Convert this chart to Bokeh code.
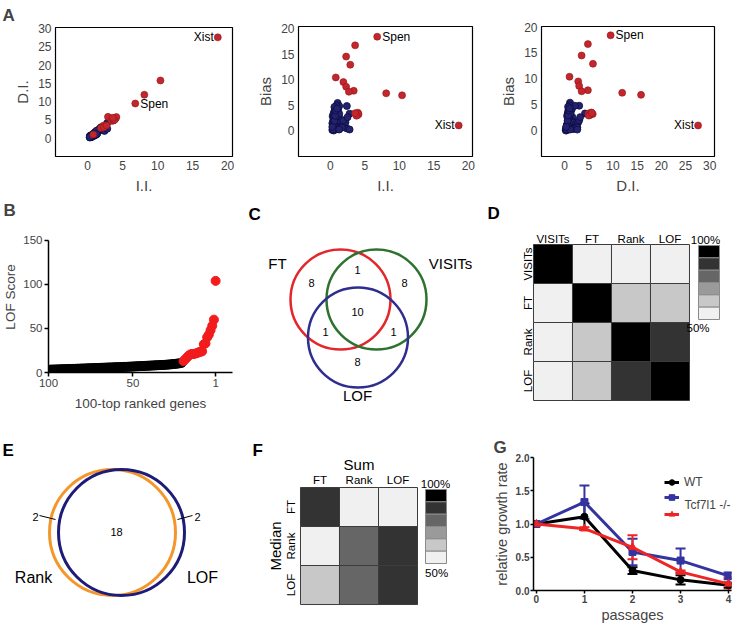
import math
from bokeh.plotting import figure
from bokeh.layouts import row, column
from bokeh.models import (Range1d, FixedTicker, Legend, LegendItem, Whisker, Label,
                          ColumnDataSource, TeeHead, NumeralTickFormatter, LinearColorMapper)
from bokeh.transform import transform
from bokeh.embed import file_html
from bokeh.resources import INLINE
from bokeh.core.properties import value

FONT = "Liberation Sans"

# ---------------- Panel A data (I.I., D.I., Bias) ----------------
red_ii = [18.6, 6.8, 3.6, 2.3, 2.9, 0.8, 1.9, 2.3, 3.4, 2.7, 8.1, 10.4, 3.7, 3.9, 4.0, 4.1, 3.8, 3.6]
red_di = [27.6, 9.5, 4.8, 3.5, 5.85, 1.0, 2.8, 3.0, 4.8, 3.5, 11.9, 15.8, 4.9, 5.2, 5.5, 5.8, 5.0, 5.6]
red_bias = [1.0, 18.4, 16.7, 14.5, 12.9, 10.4, 9.5, 8.6, 7.8, 7.6, 7.3, 6.9, 3.3, 3.0, 3.5, 3.2, 2.9, 3.4]
red_gene = ["Xist", "Spen", "", "", "", "", "", "", "", "", "", "", "", "", "", "", "", ""]

blue_ii = [0.3, 0.4, 0.5, 0.6, 0.7, 0.8, 0.9, 1.0, 1.1, 1.2,
           0.35, 0.45, 0.55, 0.65, 0.75, 0.85, 0.95, 1.05, 1.15, 1.25,
           0.3, 0.4, 0.5, 0.6, 0.7, 0.8, 0.9, 1.0, 1.1, 1.2,
           0.5, 0.6, 0.7, 0.8, 0.9, 1.0, 1.1, 1.2, 1.3, 1.4,
           1.5, 1.6, 1.8, 2.0, 2.2, 2.4, 1.7, 1.9,
           1.06, 2.4, 2.8, 2.5, 2.8, 1.3, 0.9, 0.6,
           0.4, 0.5, 0.6, 0.7, 0.8, 1.0, 1.3, 0.3]
blue_di = [0.2, 0.3, 0.4, 0.5, 0.6, 0.8, 0.9, 1.1, 1.2, 1.4,
           0.5, 0.6, 0.7, 0.8, 0.9, 1.0, 1.1, 1.3, 1.5, 1.6,
           0.6, 0.7, 0.8, 0.9, 1.0, 1.2, 1.3, 1.5, 1.7, 1.8,
           0.3, 0.4, 0.5, 0.6, 0.7, 0.8, 0.9, 1.0, 1.2, 1.4,
           1.9, 2.1, 2.3, 2.5, 2.8, 2.0, 2.6, 3.0,
           1.1, 3.0, 4.2, 3.2, 2.6, 2.1, 1.0, 0.7,
           0.4, 0.5, 0.6, 0.7, 0.9, 1.0, 1.1, 0.3]
blue_bias = [0.1, 0.4, 0.8, 1.2, 0.2, 1.6, 2.0, 0.5, 2.4, 1.0,
             2.8, 3.2, 3.6, 4.0, 4.4, 3.0, 3.4, 3.8, 4.2, 2.6,
             1.4, 1.8, 2.2, 2.6, 0.6, 1.0, 1.4, 1.8, 0.3, 0.7,
             0.0, 0.3, 0.9, 1.3, 1.7, 2.1, 2.5, 2.9, 3.3, 1.1,
             1.5, 0.8, 1.2, 0.9, 1.6, 0.4, 0.6, 2.0,
             5.4, 4.8, 3.3, 2.6, 0.2, 4.8, 4.9, 4.6,
             0.2, 1.0, 1.9, 2.9, 3.9, 4.3, 0.2, 0.7]

# ---------------- Panel B data ----------------
top_rank = list(range(1, 21))
top_score = [104, 60, 53, 48, 43, 40, 33, 32, 24, 23.5, 23, 22, 21.5, 21, 21, 20.5, 19, 17, 15, 13]
rest_rank = list(range(21, 101))
rest_score = [11.0, 10.6, 10.3, 10.0, 9.8, 9.6, 9.4, 9.2, 9.0, 8.9,
              8.7, 8.6, 8.5, 8.4, 8.3, 8.2, 8.1, 8.0, 7.9, 7.8,
              7.7, 7.6, 7.5, 7.4, 7.3, 7.2, 7.1, 7.0, 6.9, 6.8,
              6.7, 6.6, 6.5, 6.4, 6.4, 6.3, 6.2, 6.1, 6.0, 6.0,
              5.9, 5.8, 5.7, 5.7, 5.6, 5.5, 5.4, 5.4, 5.3, 5.2,
              5.1, 5.1, 5.0, 4.9, 4.8, 4.8, 4.7, 4.6, 4.5, 4.5,
              4.4, 4.3, 4.3, 4.2, 4.1, 4.1, 4.0, 3.9, 3.9, 3.8,
              3.7, 3.7, 3.6, 3.5, 3.5, 3.4, 3.3, 3.3, 3.2, 3.1]

# ---------------- Panel C data ----------------
venn3_sets = ["FT", "VISITs", "LOF"]
# FT only, VISITs only, LOF only, FT&VISITs, FT&LOF, VISITs&LOF, all three
venn3_counts = [8, 8, 8, 1, 1, 1, 10]

# ---------------- Panel D data ----------------
d_methods = ["VISITs", "FT", "Rank", "LOF"]
d_overlap = [[100, 52, 52, 52],
             [52, 100, 62, 62],
             [52, 62, 100, 90],
             [52, 62, 90, 100]]

# ---------------- Panel E data ----------------
venn2_sets = ["Rank", "LOF"]
venn2_counts = [2, 18, 2]  # Rank only, both, LOF only

# ---------------- Panel F data ----------------
f_sum = ["FT", "Rank", "LOF"]
f_median = ["FT", "Rank", "LOF"]
f_overlap = [[90, 52, 52],
             [52, 80, 90],
             [62, 80, 90]]

grey_levels = ["#f0f0f0", "#c8c8c8", "#9a9a9a", "#666666", "#333333", "#000000"]
scale_labels = ["50%", "100%"]

# ---------------- Panel G data ----------------
passages = [0, 1, 2, 3, 4]
wt_mean = [1.0, 1.11, 0.30, 0.16, 0.08]
wt_err = [0.0, 0.20, 0.05, 0.07, 0.04]
ko_mean = [1.0, 1.33, 0.58, 0.45, 0.22]
ko_err = [0.0, 0.25, 0.20, 0.18, 0.05]
ko2_mean = [1.0, 0.93, 0.65, 0.28, 0.10]
ko2_err = [0.0, 0.02, 0.18, 0.02, 0.10]
g_labels = ["WT", "Tcf7l1 -/-"]

NAVY = "#23226e"
RED_A = "#c4262b"
RED_B = "#f21c1c"


def fig(w, h, l, r, t, b, **kw):
    p = figure(width=w, height=h, min_border_left=l, min_border_right=r,
               min_border_top=t, min_border_bottom=b, toolbar_location=None,
               output_backend="svg", **kw)
    try:
        p.frame_align = False
    except Exception:
        pass
    p.grid.visible = False
    p.outline_line_color = None
    p.background_fill_color = "white"
    p.border_fill_color = "white"
    return p


def bare(w, h, xr, yr):
    p = fig(w, h, 0, 0, 0, 0, x_range=Range1d(*xr), y_range=Range1d(*yr),
            x_axis_type=None, y_axis_type=None)
    p.title.visible = False
    return p


def title_letter(p, txt, offset, standoff):
    p.title.text = txt
    p.title.align = "left"
    p.title.offset = offset
    p.title.standoff = standoff
    p.title.text_font = FONT
    p.title.text_font_style = "bold"
    p.title.text_font_size = "17px"


def text_letter(p, txt, x, y):
    p.text([x], [y], text=[txt], text_align="left", text_baseline="top",
           text_font=value(FONT), text_font_style="bold", text_font_size="17px",
           text_color="black")


def style_axis(ax, size="12px", label_size="16px"):
    ax.major_label_text_font = FONT
    ax.major_label_text_font_size = size
    ax.axis_label_text_font = FONT
    ax.axis_label_text_font_size = label_size
    ax.axis_label_text_font_style = "normal"
    ax.minor_tick_line_color = None


def txt(p, xs, ys, labels, size, angle=0.0, align="center", style="normal"):
    p.text(xs, ys, text=labels, angle=angle, text_align=align, text_baseline="middle",
           text_font=value(FONT), text_font_size=size, text_font_style=style,
           text_color="black")


# ---------------- Panel A ----------------
def a_panel(x, y, rx, ry, xr, yr, xt, yt, xlabel, ylabel, w, l, r):
    p = fig(w, 196, l, r, 26, 36, x_range=Range1d(*xr), y_range=Range1d(*yr))
    p.outline_line_color = "black"
    p.outline_line_width = 1.2
    for ax, ticks, lab in ((p.xaxis[0], xt, xlabel), (p.yaxis[0], yt, ylabel)):
        ax.ticker = FixedTicker(ticks=ticks)
        style_axis(ax, "12px", "15px")
        ax.axis_line_color = None
        ax.major_tick_line_color = None
        ax.major_tick_in = 0
        ax.major_tick_out = 0
        ax.major_label_standoff = 4
        ax.axis_label_standoff = 4
        ax.axis_label = lab
    p.scatter(x, y, size=7, fill_color=NAVY, line_color="#0d0c40", line_width=0.8)
    p.scatter(rx, ry, size=7, fill_color=RED_A, line_color="#8e1519", line_width=0.6)
    xi = red_gene.index("Xist")
    sp = red_gene.index("Spen")
    p.text([rx[xi]], [ry[xi]], text=[red_gene[xi]], text_align="right", text_baseline="middle",
           x_offset=-4, text_font=value(FONT), text_font_size="12px", text_color="black")
    p.text([rx[sp]], [ry[sp]], text=[red_gene[sp]], text_align="left", text_baseline="middle",
           x_offset=5, text_font=value(FONT), text_font_size="12px", text_color="black")
    return p


a1 = a_panel(blue_ii, blue_di, red_ii, red_di, (-4.6, 20.7), (-5.0, 30.3),
             [0, 5, 10, 15, 20], [0, 5, 10, 15, 20, 25, 30], "I.I.", "D.I.", 240, 55, 8)
a2 = a_panel(blue_ii, blue_bias, red_ii, red_bias, (-4.6, 20.6), (-5.1, 20.4),
             [0, 5, 10, 15, 20], [0, 5, 10, 15, 20], "I.I.", "Bias", 240, 58, 8)
a3 = a_panel(blue_di, blue_bias, red_di, red_bias, (-4.8, 31.0), (-5.0, 20.1),
             [0, 5, 10, 15, 20, 25, 30], [0, 5, 10, 15, 20], "D.I.", "Bias", 254, 61, 20)
title_letter(a1, "A", -53, 6)

# ---------------- Panel B ----------------
# frame reaches above the axis top (axis bounds keep the line at 0-150)
b = fig(240, 229, 42, 8, 24, 53, x_range=Range1d(100, -9), y_range=Range1d(0, 171.4))
b.xaxis.ticker = FixedTicker(ticks=[100, 50, 1])
b.yaxis.ticker = FixedTicker(ticks=[0, 50, 100, 150])
b.yaxis.bounds = (0, 150)
for ax in (b.xaxis[0], b.yaxis[0]):
    style_axis(ax, "11.5px", "13.5px")
    ax.axis_line_width = 1.5
    ax.major_tick_line_width = 1.5
    ax.major_tick_in = 0
    ax.major_tick_out = 4
    ax.major_label_standoff = 2
    ax.axis_label_standoff = 2
b.xaxis.axis_label = "100-top ranked genes"
b.yaxis.axis_label = "LOF Score"
b.xaxis.axis_label_standoff = 6
b.scatter(rest_rank, rest_score, size=9, color="black")
b.scatter(top_rank, top_score, size=9, color=RED_B)
title_letter(b, "B", -45, 4)

# ---------------- Panel C (pixel-like frame) ----------------
c = bare(240, 229, (240, 480), (425, 196))
c.circle([340, 376, 357.5], [299, 299, 337], radius=50, fill_color=None,
         line_color=["#e3262b", "#2e7230", "#2f2e8f"], line_width=2.5)
txt(c, [277, 450, 357], [263, 263, 395], venn3_sets, "15px")
txt(c, [311, 404, 357, 357, 325, 393, 357], [282, 282, 361, 269, 331, 331, 311],
    [str(v) for v in venn3_counts], "11px")
text_letter(c, "C", 248, 204)


# ---------------- Heatmap helper (D, F) ----------------
def heatmap(p, mat, cb_x, cb_w, cb_top, cb_bot):
    mapper = LinearColorMapper(palette=grey_levels, low=50, high=100)
    xs, ys, vs = [], [], []
    for i, rv in enumerate(mat):
        for j, v in enumerate(rv):
            xs.append(j + 1)
            ys.append(i + 1)
            vs.append(v)
    src = ColumnDataSource(dict(x=xs, y=ys, v=vs))
    p.rect("x", "y", 1, 1, source=src, fill_color=transform("v", mapper),
           line_color="#3c3c3c", line_width=1)
    n = len(grey_levels)
    bh = (cb_bot - cb_top) / n
    cols = list(reversed(grey_levels))
    p.rect([cb_x] * n, [cb_top + bh * (k + 0.5) for k in range(n)], cb_w, bh,
           fill_color=cols, line_color="#8a8a8a", line_width=1)


# ---------------- Panel D (cell units, 39 px per cell) ----------------
d = bare(254, 229, (-0.859, 5.654), (5.141, -0.731))
heatmap(d, d_overlap, 5.0, 21 / 39, 0.526, 2.423)
txt(d, [1, 2, 3, 4], [0.35] * 4, d_methods, "11.5px")
txt(d, [0.35] * 4, [1, 2, 3, 4], d_methods, "11.5px", angle=math.pi / 2)
txt(d, [4.91], [0.38], [scale_labels[1]], "11.5px")
txt(d, [4.72], [2.63], [scale_labels[0]], "11.5px")
text_letter(d, "D", -0.68, -0.53)

# ---------------- Panel E (pixel-like frame) ----------------
e = bare(240, 200, (0, 240), (625, 425))
e.circle([112, 121], [532, 532], radius=63, fill_color=None,
         line_color=["#f4962a", "#1f1b78"], line_width=3)
e.segment([39, 177], [515, 519], [55, 192], [519, 515], line_color="black", line_width=1)
txt(e, [35, 116, 197], [516, 531, 516], [str(v) for v in venn2_counts], "11px")
txt(e, [33, 202], [577, 577], venn2_sets, "16px")
text_letter(e, "E", 2, 440)

# ---------------- Panel F (cell units, 39 px per cell) ----------------
f = bare(240, 200, (-1.038, 5.115), (4.038, -1.090))
heatmap(f, f_overlap, 3.974, 21 / 39, 0.551, 2.449)
txt(f, [1, 2, 3], [0.32] * 3, f_sum, "11.5px")
txt(f, [0.25] * 3, [1, 2, 3], f_median, "11.5px", angle=math.pi / 2)
txt(f, [2.0], [-0.09], ["Sum"], "15px")
txt(f, [-0.14], [2.0], ["Median"], "15px", angle=math.pi / 2)
txt(f, [3.96], [0.42], [scale_labels[1]], "11.5px")
txt(f, [3.99], [2.70], [scale_labels[0]], "11.5px")
text_letter(f, "F", -0.73, -0.70)

# ---------------- Panel G ----------------
g = fig(254, 200, 53, 3, 32, 34, x_range=Range1d(-0.06, 4.06), y_range=Range1d(0, 2.0))
g.xaxis.ticker = FixedTicker(ticks=passages)
g.yaxis.ticker = FixedTicker(ticks=[0, 0.5, 1.0, 1.5, 2.0])
g.yaxis.formatter = NumeralTickFormatter(format="0.0")
for ax in (g.xaxis[0], g.yaxis[0]):
    style_axis(ax, "10px", "14.5px")
    ax.major_label_text_font_style = "bold"
    ax.axis_line_width = 1.5
    ax.major_tick_line_width = 1.5
    ax.major_tick_in = 0
    ax.major_tick_out = 3
    ax.major_label_standoff = 1
    ax.axis_label_standoff = 1
g.xaxis.axis_label = "passages"
g.yaxis.axis_label = "relative growth rate"
g.yaxis.axis_label_standoff = 3

series = [
    (wt_mean, wt_err, "black", "circle", 7),
    (ko_mean, ko_err, "#3434a0", "square", 7),
    (ko2_mean, ko2_err, "#ef2424", "triangle", 8),
]
items = []
for mean, err, col, marker, sz in series:
    xs = [p_ for p_, e_ in zip(passages, err) if e_ > 0]
    up = [m + e_ for m, e_ in zip(mean, err) if e_ > 0]
    lo = [m - e_ for m, e_ in zip(mean, err) if e_ > 0]
    src = ColumnDataSource(dict(x=xs, up=up, lo=lo))
    g.add_layout(Whisker(source=src, base="x", upper="up", lower="lo", line_color=col, line_width=2,
                         upper_head=TeeHead(size=10, line_color=col, line_width=2),
                         lower_head=TeeHead(size=10, line_color=col, line_width=2)))
    lr = g.line(passages, mean, line_color=col, line_width=3)
    sr = g.scatter(passages, mean, marker=marker, size=sz, fill_color=col, line_color=col)
    items.append([lr, sr])

leg1 = Legend(items=[LegendItem(label=g_labels[0], renderers=items[0])], location=(131, 101))
leg2 = Legend(items=[LegendItem(label=" ", renderers=items[1]),
                     LegendItem(label=" ", renderers=items[2])], location=(131, 69))
for lg in (leg1, leg2):
    lg.padding = 0
    lg.margin = 0
    lg.spacing = 3
    lg.glyph_width = 15
    lg.glyph_height = 14
    lg.label_height = 14
    lg.label_standoff = 5
    lg.label_text_font = FONT
    lg.label_text_font_size = "12px"
    lg.border_line_color = None
    lg.background_fill_alpha = 0
    g.add_layout(lg)
# the knockout label sits between the two knockout legend entries, as in the original
g.add_layout(Label(x=151, y=86, x_units="screen", y_units="screen", text=g_labels[1],
                   text_font=FONT, text_font_size="12px", text_baseline="middle",
                   text_align="left"))
title_letter(g, "G", -40, 2)

layout = column(row(a1, a2, a3, spacing=0), row(b, c, d, spacing=0), row(e, f, g, spacing=0),
                spacing=0)
open("out.html", "w").write(file_html(layout, INLINE))
